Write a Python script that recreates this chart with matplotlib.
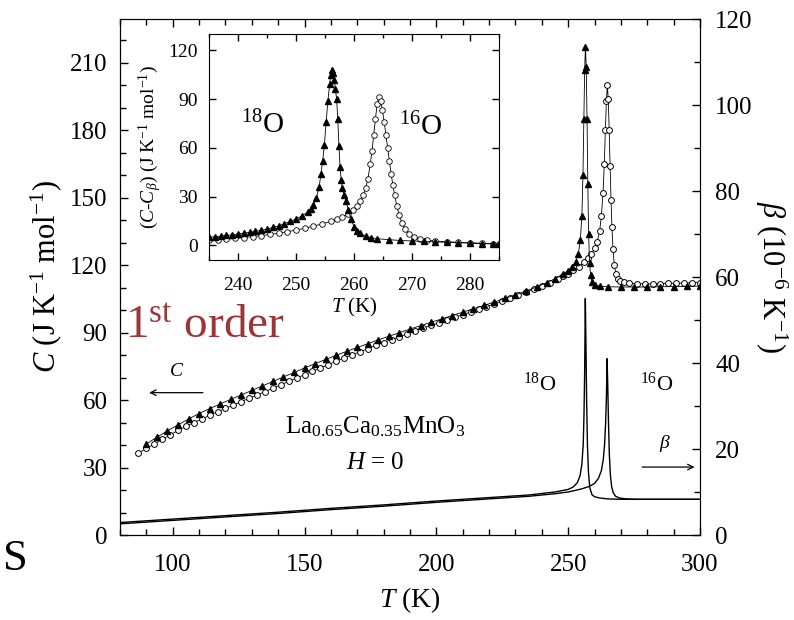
import matplotlib.pyplot as plt
from matplotlib.ticker import MultipleLocator

plt.rcParams['font.family'] = ['Liberation Serif', 'DejaVu Serif']
plt.rcParams['mathtext.fontset'] = 'custom'
plt.rcParams['mathtext.rm'] = 'Liberation Serif'
plt.rcParams['mathtext.it'] = 'Liberation Serif:italic'
plt.rcParams['mathtext.bf'] = 'Liberation Serif:bold'

# specific heat C, main panel (J K^-1 mol^-1)
t_c16 = [87, 90, 93, 96, 99, 102, 105, 108, 111, 114,
         117, 120, 123, 126, 129, 132, 135, 138, 141, 144,
         147, 150, 153, 156, 159, 162, 165, 168, 171, 174,
         177, 180, 183, 186, 189, 192, 195, 198, 201, 204,
         207, 210, 213, 216, 219, 222, 225, 228, 231, 234,
         237, 240, 243, 246, 248, 250, 252, 254, 256, 257.5,
         258.8, 260, 261, 261.9, 262.6, 263.2, 263.7, 264.1, 264.5, 264.85,
         265.2, 265.55, 265.9, 266.25, 266.6, 267, 267.5, 268.1, 268.8, 269.7,
         271, 273, 276, 279, 282, 285, 288, 291, 294, 297, 300]
c16 = [36.5, 38.5, 40.5, 42.5, 44.5, 46.5, 48.3, 50, 51.6, 53.2,
       54.8, 56.3, 57.8, 59.3, 60.8, 62.3, 63.8, 65.3, 66.8, 68.3,
       69.8, 71.3, 72.8, 74.3, 75.8, 77.3, 78.7, 80.1, 81.5, 82.9,
       84.3, 85.6, 86.9, 88.2, 89.5, 90.8, 92, 93.2, 94.4, 95.6,
       96.8, 98, 99.2, 100.4, 101.6, 102.8, 104, 105.3, 106.6, 107.9,
       109.3, 110.7, 112.2, 113.8, 115, 116.3, 117.8, 119.4, 121.2, 123,
       125, 127.5, 130.5, 135, 142, 152, 165, 180, 193, 200,
       194, 180, 164, 149, 137, 127, 120, 116, 114, 113,
       112.4, 112, 111.8, 111.7, 111.7, 111.8, 111.9, 112, 112.1, 112.2, 112.3]

t_c18 = [90, 94, 98, 102, 106, 110, 114, 118, 122, 126,
         130, 134, 138, 142, 146, 150, 154, 158, 162, 166,
         170, 174, 178, 182, 186, 190, 194, 198, 202, 206,
         210, 214, 218, 222, 226, 230, 234, 238, 242, 245,
         248, 250, 251.5, 252.8, 253.8, 254.6, 255.2, 255.6, 255.95, 256.25,
         256.55, 256.85, 257.15, 257.45, 257.75, 258.1, 258.5, 259.1, 260, 262,
         265, 270, 275, 280, 285, 290, 295, 300]
c18 = [40.5, 43.5, 46.3, 49, 51.6, 54, 56.2, 58.3, 60.3, 62.3,
       64.3, 66.3, 68.3, 70.3, 72.3, 74.3, 76.2, 78.1, 79.9, 81.7,
       83.4, 85.1, 86.8, 88.4, 90, 91.6, 93.1, 94.6, 96.1, 97.6,
       99.1, 100.6, 102.1, 103.6, 105.2, 106.8, 108.5, 110.3, 112.3, 114,
       116, 117.6, 119.2, 121.5, 125, 131, 142, 160, 185, 207,
       217, 208, 185, 156, 134, 121, 115.5, 112.5, 111.2, 110.7,
       110.4, 110.3, 110.3, 110.3, 110.4, 110.5, 110.6, 110.7]

# thermal expansion beta (10^-6 K^-1), right axis
t_b18 = [80, 100, 120, 140, 160, 180, 200, 220, 235, 245,
         250, 252, 253.5, 254.5, 255.2, 255.7, 256.0, 256.25, 256.5, 256.75,
         257.0, 257.3, 257.7, 258.2, 259, 260, 262, 265, 270, 280,
         290, 300]
b18 = [2.9, 3.7, 4.5, 5.3, 6.2, 7.0, 7.9, 8.7, 9.3, 10.0,
       10.6, 11.2, 12.2, 13.8, 16.5, 21, 28, 38, 55, 44,
       31, 21, 14.5, 11, 9.4, 8.9, 8.6, 8.4, 8.3, 8.3,
       8.3, 8.3]

t_b16 = [80, 100, 120, 140, 160, 180, 200, 220, 235, 245,
         250, 255, 258, 260, 261.5, 262.6, 263.3, 263.8, 264.2, 264.5,
         264.75, 265.0, 265.3, 265.6, 266.0, 266.5, 267.1, 268, 269.5, 272,
         276, 280, 290, 300]
b16 = [2.6, 3.4, 4.2, 5.0, 5.9, 6.7, 7.6, 8.4, 9.0, 9.6,
       10.0, 10.7, 11.3, 12, 13.2, 15, 17.5, 21, 26, 32,
       41, 35, 26, 19, 14, 11.2, 9.8, 9.0, 8.6, 8.4,
       8.3, 8.3, 8.3, 8.3]

# inset: C - C_beta
t_in18 = [235, 236, 237, 238, 239, 240, 241, 242, 243, 244,
          245, 246, 247, 248, 249, 250, 251, 252, 252.5, 253,
          253.5, 254, 254.3, 254.6, 254.9, 255.2, 255.5, 255.8, 256.0, 256.2,
          256.4, 256.6, 256.8, 257.0, 257.2, 257.4, 257.6, 257.8, 258.0, 258.3,
          258.6, 259.0, 259.5, 260.0, 260.5, 261, 262, 263, 264, 266,
          268, 270, 272, 274, 276, 278, 280, 282, 284, 285]
in18 = [5, 5.3, 5.7, 6.1, 6.5, 7, 7.5, 8, 8.6, 9.3,
        10, 11, 12, 13.3, 14.7, 16.3, 18, 20.5, 22.5, 25,
        29, 36, 44, 52, 62, 76, 89, 99, 105, 108,
        106, 102, 96, 90, 78, 61, 48, 40, 35, 31,
        27.5, 22, 16, 11.5, 9, 7.5, 5.6, 4.7, 4.1, 3.5,
        3.0, 2.7, 2.4, 2.1, 1.9, 1.6, 1.4, 1.1, 0.9, 0.8]

t_in16 = [235, 236.5, 238, 239.5, 241, 242.5, 244, 245.5, 247, 248.5,
          250, 251.5, 253, 254.5, 256, 257, 258, 259, 259.8, 260.5,
          261.1, 261.6, 262.0, 262.4, 262.8, 263.1, 263.4, 263.7, 264.0, 264.3,
          264.6, 264.9, 265.2, 265.5, 265.8, 266.1, 266.4, 266.7, 267.0, 267.4,
          267.8, 268.3, 268.8, 269.5, 270.3, 271.3, 272.5, 274, 276, 278,
          280, 282, 284, 285]
in16 = [3, 3.4, 3.8, 4.3, 4.8, 5.4, 6, 6.7, 7.5, 8.4,
        9.4, 10.5, 11.8, 13.2, 14.8, 16, 17.5, 19.5, 21.5, 24,
        27, 31, 35, 41, 50, 58, 68, 78, 87, 91,
        89, 83, 76, 68, 60, 52, 44, 37, 31, 24,
        18.5, 13.5, 10, 7, 5.2, 4, 3.3, 2.7, 2.2, 1.9,
        1.6, 1.3, 1.1, 1.0]

fig = plt.figure(figsize=(7.94, 6.2), dpi=100)
ax = fig.add_axes([120 / 794, 85 / 620, 580 / 794, 516 / 620])
ax2 = ax.twinx()

# C curves
ax.plot(t_c16, c16, '-', color='k', lw=0.6, marker='o', ms=4.2, mfc='white',
        mec='k', mew=0.7)
ax.plot(t_c18, c18, '-', color='k', lw=0.6, marker='^', ms=5, mfc='k', mec='k')
# beta curves
ax2.plot(t_b18, b18, '-', color='k', lw=1.0)
ax2.plot(t_b16, b16, '-', color='k', lw=1.0)

ax.set_xlim(80, 300)
ax.set_ylim(0, 229.5)
ax2.set_ylim(0, 120)
ax.xaxis.set_major_locator(MultipleLocator(50))
ax.xaxis.set_minor_locator(MultipleLocator(10))
ax.yaxis.set_major_locator(MultipleLocator(30))
ax.yaxis.set_minor_locator(MultipleLocator(10))
ax2.yaxis.set_major_locator(MultipleLocator(20))
ax2.yaxis.set_minor_locator(MultipleLocator(10))
ax.tick_params(which='both', direction='in', top=True, labelsize=18, width=1)
ax.tick_params(which='major', length=6)
ax.tick_params(which='minor', length=4)
ax.tick_params(axis='x', pad=14)
ax.tick_params(axis='y', pad=9)
ax2.tick_params(which='both', direction='in', labelsize=18, width=1, pad=11)
ax2.tick_params(which='major', length=6)
ax2.tick_params(which='minor', length=4)

ax.set_xlabel(r'$T$ (K)', fontsize=20, labelpad=6)
ax.set_ylabel(r'$C$ (J K$^{-1}$ mol$^{-1}$)', fontsize=22, labelpad=4)
ax2.set_ylabel(r'$\beta$ (10$^{-6}$ K$^{-1}$)', fontsize=22, rotation=-90,
               va='bottom', labelpad=0)

# annotations
ax.text(81.9, 88, r'1$^{\mathrm{st}}$ order', fontsize=34, color='#9c3535',
        ha='left', va='baseline', zorder=10)
ax.text(101.5, 72.7, r'$C$', fontsize=14, ha='center', va='center')
ax.annotate('', xy=(90, 63.3), xytext=(112.5, 63.3),
            arrowprops=dict(arrowstyle='->', color='k', lw=0.9))
ax.text(176.7, 48, r'La$_{0.65}$Ca$_{0.35}$MnO$_3$', fontsize=18,
        ha='center', va='center')
ax.text(176.7, 32, r'$H$ = 0', fontsize=18, ha='center', va='center')
ax2.text(239.3, 35, r'$^{18}$O', fontsize=16, ha='center', va='center')
ax2.text(283.7, 35, r'$^{16}$O', fontsize=16, ha='center', va='center')
ax2.text(286.8, 21.2, r'$\beta$', fontsize=14, ha='center', va='center')
ax2.annotate('', xy=(299, 15.8), xytext=(277, 15.8),
             arrowprops=dict(arrowstyle='->', color='k', lw=0.9))

fig.text(3 / 794, 50 / 620, 'S', fontsize=32, ha='left', va='baseline')

# inset
axi = fig.add_axes([209 / 794, 360 / 620, 290 / 794, 226 / 620])
axi.plot(t_in16, in16, '-', color='k', lw=0.6, marker='o', ms=4, mfc='white',
         mec='k', mew=0.6)
axi.plot(t_in18, in18, '-', color='k', lw=0.6, marker='^', ms=4.5, mfc='k',
         mec='k')
axi.set_xlim(235, 285)
axi.set_ylim(-9, 130)
axi.xaxis.set_major_locator(MultipleLocator(10))
axi.xaxis.set_minor_locator(MultipleLocator(5))
axi.yaxis.set_major_locator(MultipleLocator(30))
axi.tick_params(which='both', direction='in', top=True, right=True,
                labelsize=14, width=1)
axi.tick_params(which='major', length=5)
axi.tick_params(which='minor', length=3)
axi.tick_params(axis='x', pad=12)
axi.tick_params(axis='y', pad=8)
axi.set_xlabel(r'$T$ (K)', fontsize=15, labelpad=2)
axi.set_ylabel(r'$(C$-$C_\beta)$ (J K$^{-1}$ mol$^{-1}$)', fontsize=14,
               labelpad=3)
axi.text(244.3, 74, r'$^{18}$O', fontsize=21, ha='center', va='center')
axi.text(271.4, 72.5, r'$^{16}$O', fontsize=21, ha='center', va='center')

fig.savefig('out.png', dpi=100)
